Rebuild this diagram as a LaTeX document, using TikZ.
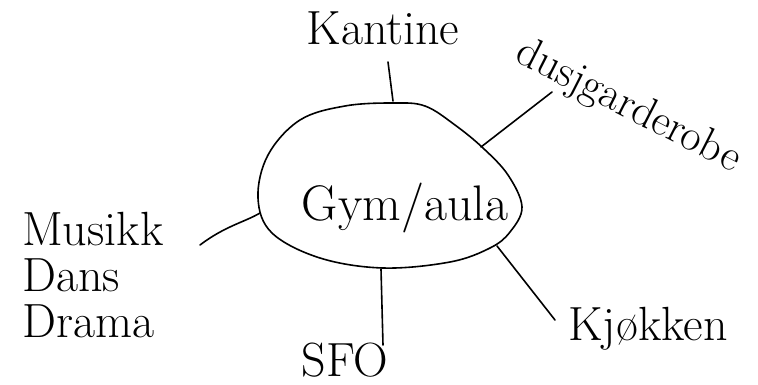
\documentclass[tikz,border=0pt]{standalone}
\begin{document}
\begin{tikzpicture}[x=1pt,y=-1pt,
  lbl/.style={font=\fontsize{48}{46}\selectfont, inner sep=0pt, anchor=base},
  conn/.style={line width=1.6pt, line cap=round},
  blobline/.style={line width=1.6pt}]
\useasboundingbox (0,0) rectangle (758,385);
% blob
\draw[blobline] plot[smooth cycle, tension=0.6] coordinates {
 (393,103) (425,106) (455,125) (483,148) (508,175) (522,207) (510,232) (490,248)
 (450,262) (383,268) (320,258) (272,233) (258,198) (268,155) (300,120) (345,106)};
\node[lbl, font=\fontsize{50}{50}\selectfont] (gym) at (405,220) {Gym/aula};
% attachment coordinates on blob
\coordinate (bt) at (393,101);
\coordinate (btr) at (481,147);
\coordinate (bl) at (260,213);
\coordinate (bb) at (381,269);
\coordinate (bbr) at (497,246);
% labels
\node[lbl] (kantine) at (383,45) {Kantine};
\node[lbl, anchor=center, rotate=-27, font=\fontsize{44}{44}\selectfont] (dusj) at (628,107) {dusjgarderobe};
\node[lbl, align=left, anchor=north west] (mdd) at (22,212) {Musikk\\Dans\\Drama};
\node[lbl] (sfo) at (345,376) {SFO};
\node[lbl] (kjokken) at (648,340) {Kjøkken};
% free ends
\coordinate (kA) at (388,62);
\coordinate (dA) at (552,92);
\coordinate (mA) at (200,245);
\coordinate (sA) at (383,345);
\coordinate (jA) at (555,320);
% connectors
\draw[conn] (bt) -- (kA);
\draw[conn] (btr) -- (dA);
\draw[conn] (bl) .. controls (245,222) and (225,226) .. (mA);
\draw[conn] (bb) -- (sA);
\draw[conn] (bbr) -- (jA);
\end{tikzpicture}
\end{document}
